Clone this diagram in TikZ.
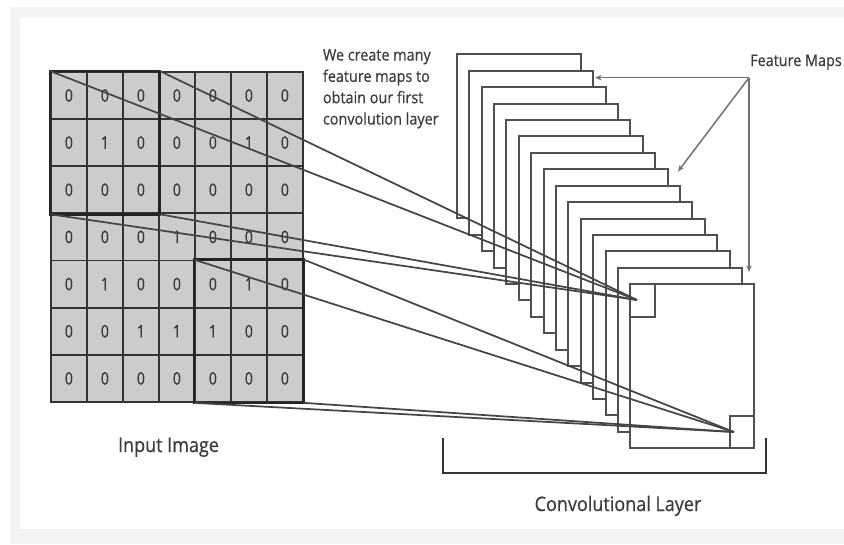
\documentclass[tikz,border=0pt]{standalone}
\usepackage{fontspec}
\setmainfont{Open Sans}
\newfontfamily\heavyfont[FakeBold=0.6]{Open Sans}
\usetikzlibrary{arrows.meta}
\definecolor{cellfill}{HTML}{CCCCCC}
\definecolor{gridline}{HTML}{333333}
\definecolor{mapline}{HTML}{505050}
\definecolor{linkline}{HTML}{454545}
\definecolor{txt}{HTML}{3C3C3C}
\definecolor{arrowc}{HTML}{707070}
\definecolor{frameband}{HTML}{F3F3F3}
\begin{document}
\begin{tikzpicture}[x=0.75pt,y=-0.75pt,
  cell/.style={draw=gridline,fill=cellfill,line width=1.35pt,minimum width=27pt,minimum height=35.36pt,inner sep=0pt,anchor=north west,font=\heavyfont\fontsize{13}{15}\selectfont,text=black!78},
  region/.style={draw=gridline!70!black,line width=2pt},
  fmap/.style={draw=mapline,fill=white,line width=1.5pt,minimum width=93pt,minimum height=123pt,inner sep=0pt,anchor=north west},
  sq/.style={draw=mapline,line width=1.5pt,minimum width=18.5pt,minimum height=24.5pt,inner sep=0pt},
  link/.style={draw=linkline,line width=1.3pt},
  fmarrow/.style={draw=arrowc,line width=1.1pt,-{Stealth[length=5pt,width=4pt]}},
  bracket/.style={draw=gridline,line width=1.6pt},
  lbl/.style={text=txt,inner sep=0pt,font=\heavyfont},
]
% background
\useasboundingbox (0,0) rectangle (844,544);
\fill[white] (0,0) rectangle (844,544);
\fill[frameband] (10,7) rectangle (844,544);
\fill[white] (20,18) rectangle (844,529);

% input grid
\foreach \row/\vals in {0/{0,0,0,0,0,0,0},1/{0,1,0,0,0,1,0},2/{0,0,0,0,0,0,0},3/{0,0,0,1,0,0,0},4/{0,1,0,0,0,1,0},5/{0,0,1,1,1,0,0},6/{0,0,0,0,0,0,0}}{
  \foreach \v [count=\col from 0] in \vals {
    \node[cell] (c-\row-\col) at ({50+36*\col},{71+47.15*\row}) {\scalebox{0.8}[1]{\v}};
  }
}
\draw[region] (c-0-0.north west) rectangle (c-2-2.south east);
\draw[region] (c-4-4.north west) rectangle (c-6-6.south east);

% feature map stack
\foreach \i in {0,...,14}{
  \node[fmap] (fm\i) at ({455.7+12.4*\i},{53.3+16.43*\i}) {};
}
\node[sq,anchor=north west] (k1) at (fm14.north west) {};
\node[sq,anchor=south east] (k2) at (fm14.south east) {};

% convergence points
\coordinate (p1) at (637,300);
\coordinate (p2) at (734,432);

% links
\draw[link] (c-0-0.north west) -- (p1);
\draw[link] (c-0-2.north east) -- (p1);
\draw[link] (c-2-0.south west) -- (p1);
\draw[link] (c-2-2.south east) -- (p1);
\draw[link] (c-4-4.north west) -- (p2);
\draw[link] (c-4-6.north east) -- (p2);
\draw[link] (c-6-4.south west) -- (p2);
\draw[link] (c-6-6.south east) -- (p2);

% labels
\node[lbl,anchor=base west] (note) at (322.7,60.5) {\fontsize{12}{16}\selectfont\scalebox{0.9}[1]{\begin{tabular}[t]{@{}l@{}}We create many\\feature maps to\\obtain our first\\convolution layer\end{tabular}}};
\node[lbl,anchor=base] (fmlabel) at (796,66) {\fontsize{12}{16}\selectfont\scalebox{0.9}[1]{Feature Maps}};
\node[lbl,anchor=base] (inlbl) at (168.5,452) {\fontsize{15}{18}\selectfont\scalebox{0.9}[1]{Input Image}};
\node[lbl,anchor=base] (convlbl) at (618,511) {\fontsize{15}{18}\selectfont\scalebox{0.9}[1]{Convolutional Layer}};

% feature map arrows
\coordinate (fmA) at (749,77.7);
\coordinate (e1) at (595,77.7);
\coordinate (e2) at (678,171.5);
\coordinate (e3) at (749,272);
\draw[fmarrow] (fmA) -- (e1);
\draw[fmarrow] (fmA) -- (e2);
\draw[fmarrow] (fmA) -- (e3);

% bracket
\coordinate (bl) at (443,438);
\coordinate (br) at (766,438);
\draw[bracket] (bl) -- ++(0,35) -| (br);
\end{tikzpicture}
\end{document}
